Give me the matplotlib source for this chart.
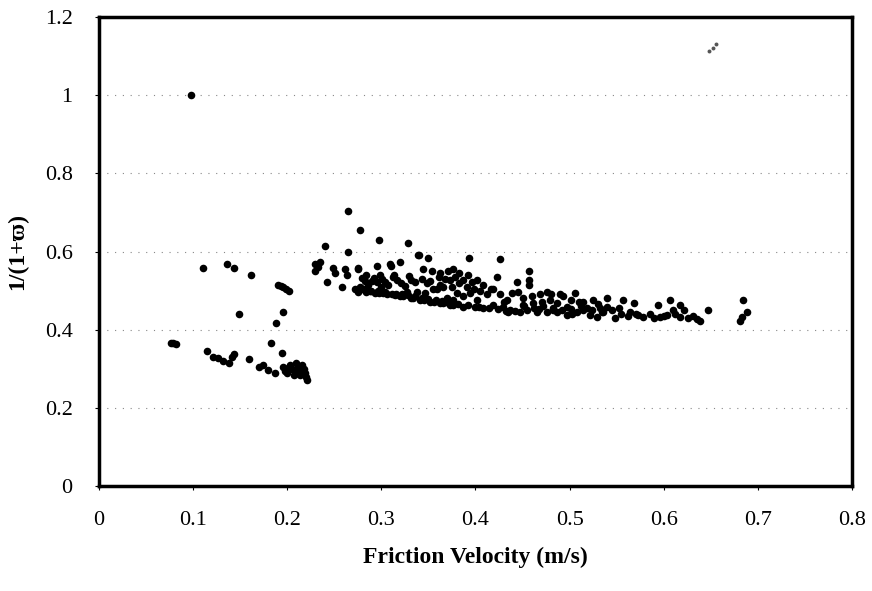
import matplotlib
matplotlib.use("Agg")
import matplotlib.pyplot as plt

plt.rcParams['font.family'] = ['Liberation Serif', 'DejaVu Serif']

# Friction velocity (m/s) and 1/(1+w) values
friction_velocity = [
    # left group
    0.077, 0.079, 0.082,
    0.110, 0.136, 0.143, 0.161,
    0.190, 0.193, 0.196, 0.199, 0.202,
    0.149, 0.196, 0.188, 0.183, 0.194,
    0.115, 0.121, 0.126, 0.132, 0.138, 0.141, 0.143,
    0.159, 0.170, 0.174, 0.180, 0.187,
    0.196, 0.198, 0.200, 0.203, 0.205, 0.207, 0.209, 0.211, 0.213, 0.214,
    0.216, 0.218, 0.219, 0.220, 0.221, 0.201, 0.210,
    # isolated value
    0.098,
    # upper outliers of main group
    0.265, 0.277, 0.298, 0.328, 0.240, 0.265, 0.340, 0.350, 0.393, 0.426,
    0.320, 0.310, 0.457, 0.423,
    # start of main group
    0.230, 0.235, 0.230, 0.233, 0.249, 0.251, 0.261, 0.264, 0.242, 0.258, 0.275,
    # main group 0.27 - 0.38
    0.275, 0.279, 0.284, 0.295, 0.299, 0.309, 0.304, 0.307, 0.317, 0.295,
    0.286, 0.277, 0.275, 0.284, 0.293, 0.302, 0.311, 0.320, 0.331, 0.341,
    0.352, 0.362, 0.373, 0.327, 0.338, 0.331, 0.336, 0.339, 0.344, 0.354,
    0.362, 0.371, 0.376, 0.359, 0.366, 0.375, 0.346, 0.370, 0.376, 0.373,
    0.281, 0.289, 0.297, 0.306, 0.314, 0.323, 0.334, 0.345, 0.356, 0.366,
    0.290, 0.300, 0.313, 0.325, 0.349,
    # lower edge of the main group
    0.272, 0.278, 0.288, 0.296, 0.304, 0.316, 0.322, 0.328, 0.336, 0.343,
    0.350, 0.358, 0.364, 0.369, 0.381, 0.392, 0.404, 0.414, 0.424, 0.432,
    0.442,
    # middle of the main group
    0.283, 0.292, 0.301, 0.312, 0.321, 0.329, 0.343, 0.352, 0.361, 0.368,
    0.382, 0.391, 0.398, 0.405, 0.362, 0.355,
    # main group 0.38 - 0.54
    0.378, 0.387, 0.396, 0.402, 0.408, 0.380, 0.387, 0.394, 0.402, 0.412,
    0.376, 0.387, 0.400, 0.408, 0.419, 0.426, 0.434, 0.439, 0.445, 0.419,
    0.429, 0.437, 0.447, 0.455, 0.435, 0.461, 0.471, 0.479, 0.487, 0.465,
    0.476, 0.487, 0.497, 0.508, 0.514, 0.522, 0.529, 0.536, 0.493, 0.501,
    0.514, 0.525, 0.497, 0.519, 0.540, 0.444, 0.457, 0.457, 0.506, 0.469,
    0.476, 0.490, 0.383, 0.392, 0.416, 0.430, 0.451, 0.468, 0.482, 0.503,
    0.452, 0.462, 0.472, 0.482, 0.492, 0.502, 0.512, 0.524, 0.532, 0.545,
    0.450, 0.460, 0.480, 0.510, 0.530,
    # right part 0.53 - 0.69
    0.540, 0.557, 0.568, 0.534, 0.548, 0.564, 0.578, 0.594, 0.607, 0.617,
    0.596, 0.603, 0.617, 0.626, 0.635, 0.639, 0.647, 0.684, 0.689, 0.683,
    0.681, 0.552, 0.585, 0.610, 0.573, 0.600,
    0.555, 0.562, 0.571, 0.590, 0.612, 0.622, 0.631,
]

omega_ratio = [
    # left group
    0.367, 0.366, 0.364,
    0.559, 0.569, 0.559, 0.541,
    0.515, 0.512, 0.508, 0.505, 0.500,
    0.441, 0.444, 0.418, 0.367, 0.341,
    0.346, 0.331, 0.328, 0.321, 0.315, 0.331, 0.337,
    0.326, 0.305, 0.310, 0.297, 0.290,
    0.305, 0.295, 0.290, 0.310, 0.300, 0.285, 0.315, 0.305, 0.295, 0.285,
    0.310, 0.300, 0.290, 0.280, 0.272, 0.303, 0.290,
    # isolated value
    1.000,
    # upper outliers of main group
    0.703, 0.656, 0.630, 0.622, 0.615, 0.600, 0.590, 0.584, 0.584, 0.581,
    0.574, 0.564, 0.549, 0.536,
    # start of main group
    0.567, 0.572, 0.549, 0.560, 0.559, 0.546, 0.554, 0.541, 0.521, 0.510, 0.554,
    # main group 0.27 - 0.38
    0.559, 0.533, 0.541, 0.562, 0.541, 0.567, 0.523, 0.515, 0.528, 0.521,
    0.515, 0.508, 0.497, 0.497, 0.495, 0.495, 0.490, 0.485, 0.482, 0.477,
    0.472, 0.469, 0.464, 0.497, 0.497, 0.528, 0.521, 0.592, 0.554, 0.549,
    0.546, 0.549, 0.554, 0.503, 0.508, 0.510, 0.495, 0.482, 0.477, 0.528,
    0.503, 0.500, 0.493, 0.492, 0.488, 0.486, 0.480, 0.475, 0.471, 0.467,
    0.525, 0.510, 0.540, 0.512, 0.520,
    # lower edge of the main group
    0.505, 0.503, 0.500, 0.498, 0.496, 0.492, 0.490, 0.488, 0.485, 0.482,
    0.479, 0.476, 0.473, 0.471, 0.466, 0.462, 0.458, 0.455, 0.452, 0.449,
    0.447,
    # middle of the main group
    0.525, 0.532, 0.530, 0.535, 0.520, 0.538, 0.530, 0.525, 0.535, 0.530,
    0.520, 0.510, 0.505, 0.500, 0.515, 0.505,
    # main group 0.38 - 0.54
    0.536, 0.528, 0.521, 0.528, 0.515, 0.495, 0.485, 0.495, 0.477, 0.490,
    0.464, 0.459, 0.459, 0.456, 0.503, 0.490, 0.477, 0.495, 0.497, 0.464,
    0.459, 0.451, 0.446, 0.451, 0.444, 0.469, 0.472, 0.477, 0.469, 0.446,
    0.444, 0.444, 0.438, 0.444, 0.451, 0.438, 0.433, 0.444, 0.485, 0.477,
    0.472, 0.477, 0.459, 0.456, 0.459, 0.521, 0.528, 0.515, 0.495, 0.490,
    0.497, 0.490, 0.545, 0.540, 0.505, 0.470, 0.462, 0.452, 0.450, 0.440,
    0.460, 0.455, 0.460, 0.455, 0.450, 0.452, 0.460, 0.450, 0.455, 0.450,
    0.480, 0.485, 0.490, 0.470, 0.465,
    # right part 0.53 - 0.69
    0.482, 0.477, 0.469, 0.444, 0.431, 0.446, 0.433, 0.464, 0.477, 0.464,
    0.433, 0.438, 0.433, 0.431, 0.428, 0.421, 0.451, 0.477, 0.444, 0.433,
    0.421, 0.455, 0.440, 0.450, 0.438, 0.436,
    0.440, 0.435, 0.440, 0.430, 0.440, 0.450, 0.435,
]

# faint points near the top right corner
faint_velocity = [0.648, 0.652, 0.656]
faint_ratio = [1.112, 1.120, 1.130]

x_ticks = [0, 0.1, 0.2, 0.3, 0.4, 0.5, 0.6, 0.7, 0.8]
x_tick_labels = ['0', '0.1', '0.2', '0.3', '0.4', '0.5', '0.6', '0.7', '0.8']
y_ticks = [0, 0.2, 0.4, 0.6, 0.8, 1.0, 1.2]
y_tick_labels = ['0', '0.2', '0.4', '0.6', '0.8', '1', '1.2']

fig = plt.figure(figsize=(8.72, 5.91), dpi=100)
ax = fig.add_axes([0.1135, 0.1777, 0.8635, 0.7935])

ax.scatter(friction_velocity, omega_ratio, s=30, c='black', marker='o',
           linewidths=0, zorder=3)
ax.scatter(faint_velocity, faint_ratio, s=8, c='#555555', marker='o',
           linewidths=0, zorder=3)

ax.set_xlim(0, 0.8)
ax.set_ylim(0, 1.2)
ax.set_xticks(x_ticks)
ax.set_xticklabels(x_tick_labels)
ax.set_yticks(y_ticks)
ax.set_yticklabels(y_tick_labels)

for yv in y_ticks[1:-1]:
    ax.axhline(yv, color='#888888', linewidth=0.8, linestyle=(0, (1, 6)), zorder=1)

for s in ax.spines.values():
    s.set_linewidth(2.5)
    s.set_color('black')

ax.tick_params(axis='both', direction='out', length=3, width=0.8, labelsize=16,
               colors='black')
ax.tick_params(axis='x', pad=15)
ax.tick_params(axis='y', pad=16)

ax.set_xlabel('Friction Velocity (m/s)', fontsize=17, fontweight='bold', labelpad=12)
ax.set_ylabel('1/(1+\u03d6)', fontsize=17, fontweight='bold', labelpad=12)

fig.savefig('out.png', dpi=100)
